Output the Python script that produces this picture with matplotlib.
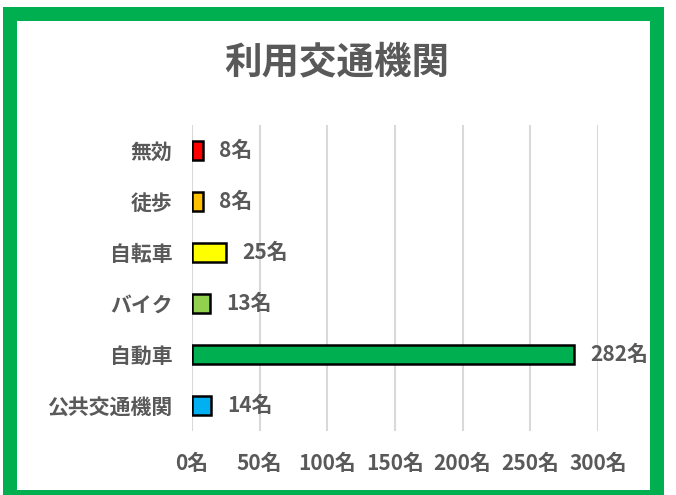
import matplotlib
matplotlib.use("Agg")
import matplotlib.pyplot as plt
from matplotlib.patches import Rectangle

plt.rcParams['font.family'] = ['Noto Sans CJK JP', 'DejaVu Sans']

title = "利用交通機関"
categories = ["無効", "徒歩", "自転車", "バイク", "自動車", "公共交通機関"]
values = [8, 8, 25, 13, 282, 14]
colors = ["#FF0000", "#FFC000", "#FFFF00", "#92D050", "#00B050", "#00B0F0"]
xticks = [0, 50, 100, 150, 200, 250, 300]
xtick_labels = [f"{t}名" for t in xticks]
value_labels = [f"{v}名" for v in values]

text_color = "#595959"
frame_color = "#00B050"
W, H = 676, 495

fig = plt.figure(figsize=(W / 100, H / 100), dpi=100)
fig.patch.set_facecolor("white")

# background axes in pixel coordinates for the green frame
bg = fig.add_axes([0, 0, 1, 1], zorder=-1)
bg.set_xlim(0, W)
bg.set_ylim(H, 0)
bg.axis("off")
outer = (3, 7, 664, 510)   # left, top, right, bottom
t = 14
l, tp, r, b = outer
bg.add_patch(Rectangle((l, tp), r - l, t, color=frame_color, lw=0))
bg.add_patch(Rectangle((l, tp), t, b - tp, color=frame_color, lw=0))
bg.add_patch(Rectangle((r - t, tp), t, b - tp, color=frame_color, lw=0))
bg.add_patch(Rectangle((l, 490), r - l, 20, color=frame_color, lw=0))

ax = fig.add_axes([192 / W, 1 - 431 / H, (598 - 192) / W, (431 - 125) / H])
ypos = list(range(len(categories)))
ax.barh(ypos, values, height=0.38, color=colors, edgecolor="black",
        linewidth=1.8, zorder=3)
ax.set_ylim(len(categories) - 0.5, -0.5)
ax.set_xlim(0, 300)
ax.set_xticks(xticks)
ax.set_xticklabels(xtick_labels)
ax.set_yticks(ypos)
ax.set_yticklabels(categories)
ax.set_facecolor("none")
for s in ax.spines.values():
    s.set_visible(False)
ax.grid(axis="x", color="#D9D9D9", linewidth=1.5, zorder=0)
ax.tick_params(axis="both", length=0, labelsize=15, labelcolor=text_color)
ax.tick_params(axis="y", pad=14)
ax.tick_params(axis="x", pad=16)
for lab in ax.get_xticklabels() + ax.get_yticklabels():
    lab.set_fontweight("bold")

for y, v, lbl in zip(ypos, values, value_labels):
    ax.annotate(lbl, xy=(v, y), xytext=(12, 0), textcoords="offset points",
                ha="left", va="center", fontsize=15, fontweight="bold",
                color=text_color)

fig.text(337 / W, 1 - 62 / H, title, ha="center", va="center", fontsize=27,
         fontweight="bold", color=text_color)

fig.savefig("out.png", dpi=100, facecolor="white")
